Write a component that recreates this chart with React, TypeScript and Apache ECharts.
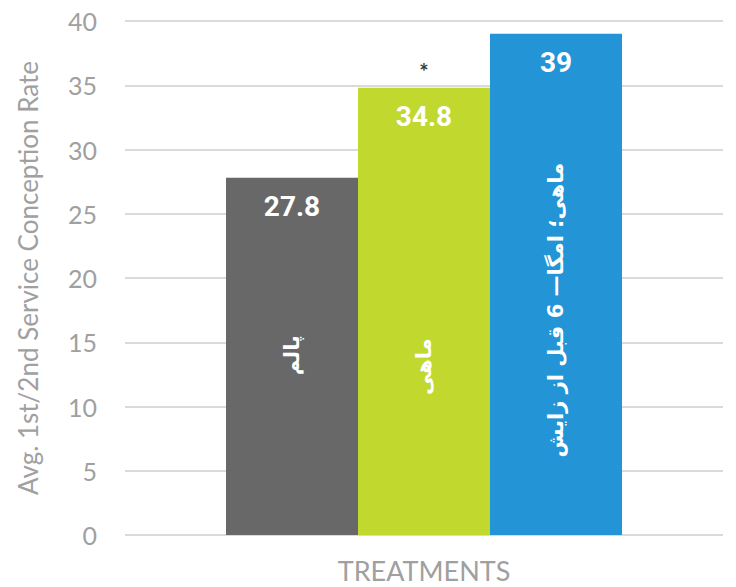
import React, { useEffect, useRef } from "react";
import * as echarts from "echarts";

const axisCategory = ["TREATMENTS"];
const treatments = ["پالم", "ماهی", "ماهی؛ امگا— 6 قبل از زایش"];
const rates = [27.8, 34.8, 39];
const significance = ["", "*", ""];
const nameAnchorY = [14, 13.1, 17.5];
const yTicks = { min: 0, max: 40, interval: 5 };
const yTitle = "Avg. 1st/2nd Service Conception Rate";
const colors = ["#686868", "#c1d82f", "#2394d6"];

export default function App() {
  const ref = useRef<HTMLDivElement>(null);
  useEffect(() => {
    if (!ref.current) return;
    const chart = echarts.init(ref.current, null, { renderer: "svg" });
    const series = treatments.map((name, i) => {
      const mp: any[] = [
        {
          coord: [axisCategory[0], nameAnchorY[i]],
          value: name,
          label: {
            show: true,
            position: "inside",
            rotate: 90,
            formatter: name,
            color: "#ffffff",
            fontSize: 21,
            fontWeight: "bold",
            fontFamily: "DejaVu Sans",
          },
        },
      ];
      if (significance[i]) {
        mp.push({
          coord: [axisCategory[0], rates[i]],
          value: significance[i],
          label: {
            show: true,
            position: "top",
            distance: 5,
            formatter: significance[i],
            color: "#3a3a3a",
            fontSize: 22,
            fontWeight: "bold",
            fontFamily: "Lato",
          },
        });
      }
      return {
        name,
        type: "bar",
        data: [rates[i]],
        barWidth: 132,
        barGap: "0%",
        itemStyle: { color: colors[i] },
        label: {
          show: true,
          position: "insideTop",
          distance: 15,
          formatter: "{c}",
          color: "#ffffff",
          fontSize: 28,
          fontWeight: "bold",
          fontFamily: "Roboto",
        },
        markPoint: {
          symbol: "rect",
          symbolSize: 1,
          itemStyle: { color: "rgba(0,0,0,0)" },
          silent: true,
          data: mp,
        },
      };
    });
    chart.setOption({
      animation: false,
      grid: { left: 125, right: 13, top: 21, bottom: 52 },
      xAxis: {
        type: "category",
        data: axisCategory,
        axisLine: { show: false },
        axisTick: { show: false },
        axisLabel: {
          color: "#a0a0a0",
          fontSize: 27,
          lineHeight: 27,
          fontFamily: "Lato",
          margin: 22,
        },
      },
      yAxis: {
        type: "value",
        min: yTicks.min,
        max: yTicks.max,
        interval: yTicks.interval,
        name: yTitle,
        nameLocation: "middle",
        nameGap: 84,
        nameTextStyle: { color: "#a0a0a0", fontSize: 26, fontFamily: "Lato" },
        axisLine: { show: false },
        axisTick: { show: false },
        axisLabel: {
          color: "#a0a0a0",
          fontSize: 25,
          fontFamily: "Lato",
          margin: 28,
        },
        splitLine: { lineStyle: { color: "#dadada", width: 2 } },
      },
      series,
    });
    return () => chart.dispose();
  }, []);
  return <div ref={ref} style={{ width: 736, height: 587, position: "absolute", left: 0, top: 0 }} />;
}
